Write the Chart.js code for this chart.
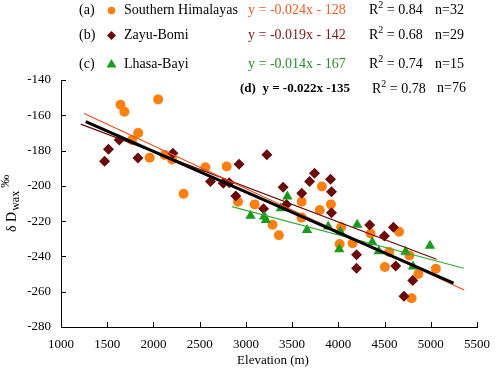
<!DOCTYPE html>
<html>
<head>
<meta charset="utf-8">
<script src="https://cdn.jsdelivr.net/npm/chart.js@4/dist/chart.umd.min.js"></script>
<style>
  html, body { margin: 0; padding: 0; background: #fff; }
  #wrap { width: 500px; height: 369px; }
</style>
</head>
<body>
<div id="wrap"><canvas id="chart"></canvas></div>
<script>
// (a) Southern Himalayas
const himalayaX = [1644, 1686, 2051, 1835, 1768, 1959, 2121, 2202, 2326, 2562, 2792, 2915, 3095, 3288, 3357, 3604,
    3602, 3822, 3799, 3920, 4030, 4014, 4155, 4349, 4551, 4503, 4657, 4769, 4865, 5055, 4792];
const himalayaY = [-154, -158, -151, -170, -174, -184, -182.5, -185, -204.5, -189.5, -189, -209, -210.5, -222, -228, -209,
    -218, -200.4, -213.7, -210.5, -223.5, -233, -232.5, -227, -237.5, -246, -226, -239.5, -250, -247, -263.7];

// (b) Zayu-Bomi
const zayuX = [1471, 1514, 1630, 1832, 2210, 2617, 2755, 2820, 2926, 2891, 3227, 3191, 3403, 3440, 3604, 3689,
    3742, 3915, 3926, 3926, 4339, 4596, 4498, 4197, 4197, 4621, 4805, 4710];
const zayuY = [-186, -179.3, -174, -184.2, -181.5, -197.6, -198.5, -198.2, -187.8, -205.7, -182.3, -213, -200.8, -210.5, -204.2, -197.6,
    -192.9, -196.3, -203.3, -215.2, -222.2, -223.5, -228.4, -239.1, -246.7, -245.4, -253.7, -262.6];

// (c) Lhasa-Bayi
const lhasaX = [3050, 3198, 3216, 3378, 3449, 3661, 3890, 4021, 4010, 4204, 4367, 4437, 4727, 4808, 4991];
const lhasaY = [-217, -217.4, -219.3, -212.7, -206, -225, -223, -226, -236, -222, -232, -237, -237.3, -245.7, -234];

// regression line end points
const trendAX = [1250, 5362], trendAY = [-159, -259];
const trendBX = [1214, 5062], trendBY = [-165, -241.6];
const trendCX = [2849, 5356], trendCY = [-211.8, -246.7];
const trendDX = [1267, 5246], trendDY = [-163.6, -255.2];

const xTicks = [1000, 1500, 2000, 2500, 3000, 3500, 4000, 4500, 5000, 5500];
const yTicks = [-140, -160, -180, -200, -220, -240, -260, -280];

const legendRows = [
    { tag: '(a)', name: 'Southern Himalayas', eq: 'y = -0.024x - 128', r2: '0.84', n: 'n=32', color: '#e8602c', marker: 'circle' },
    { tag: '(b)', name: 'Zayu-Bomi', eq: 'y = -0.019x - 142', r2: '0.68', n: 'n=29', color: '#7a1c1c', marker: 'diamond' },
    { tag: '(c)', name: 'Lhasa-Bayi', eq: 'y = -0.014x - 167', r2: '0.74', n: 'n=15', color: '#2e8b2e', marker: 'triangle' }
];

const ORANGE = '#ff7f10';
const BROWN = '#6b0a0a';
const GREEN = '#1a9a1a';
const SERIF = '"Liberation Serif", "DejaVu Serif", serif';

function pts(xs, ys) {
    return xs.map((x, i) => ({ x: x, y: ys[i] }));
}

function lineSet(xs, ys, color, width) {
    return {
        data: pts(xs, ys), showLine: true, borderColor: color, borderWidth: width,
        pointRadius: 0, fill: false, order: 0
    };
}

// inward tick marks, axis titles and the text legend
const decorations = {
    id: 'decorations',
    afterDraw(chart) {
        const ctx = chart.ctx;
        const xs = chart.scales.x, ys = chart.scales.y;
        const area = chart.chartArea;
        ctx.save();
        ctx.strokeStyle = '#000';
        ctx.lineWidth = 1;
        ctx.beginPath();
        xTicks.forEach(v => {
            const px = Math.round(xs.getPixelForValue(v)) + 0.5;
            ctx.moveTo(px, area.bottom);
            ctx.lineTo(px, area.bottom - 5);
        });
        yTicks.forEach(v => {
            const py = Math.round(ys.getPixelForValue(v)) + 0.5;
            ctx.moveTo(area.left, py);
            ctx.lineTo(area.left + 5, py);
        });
        ctx.stroke();

        // x title
        ctx.fillStyle = '#000';
        ctx.font = '13px ' + SERIF;
        ctx.textAlign = 'center';
        ctx.textBaseline = 'middle';
        ctx.fillText('Elevation (m)', 273, 361);

        // y title: δ D_wax ‰
        ctx.save();
        ctx.translate(16, 232);
        ctx.rotate(-Math.PI / 2);
        ctx.textAlign = 'left';
        ctx.textBaseline = 'alphabetic';
        ctx.font = '14px ' + SERIF;
        ctx.fillText('\u03b4 D', 0, 0);
        let cx = ctx.measureText('\u03b4 D').width + 1;
        ctx.font = '12px ' + SERIF;
        ctx.fillText('wax', cx, 3);
        cx += ctx.measureText('wax').width + 3;
        ctx.font = '13px ' + SERIF;
        ctx.fillText('\u2030', cx, -7);
        ctx.restore();

        // legend rows
        const rowY = [10.5, 35.5, 64];
        legendRows.forEach((r, i) => {
            const y = rowY[i];
            ctx.font = '14px ' + SERIF;
            ctx.textAlign = 'left';
            ctx.textBaseline = 'middle';
            ctx.fillStyle = '#000';
            ctx.fillText(r.tag, 79, y);
            ctx.fillText(r.name, 124, y);
            drawR2(ctx, 369, y, r.r2);
            ctx.fillText(r.n, 435, y);
            ctx.fillStyle = r.color;
            ctx.fillText(r.eq, 248, y);
            drawMarker(ctx, r.marker, 111.5, y);
        });

        // (d) all data
        ctx.fillStyle = '#000';
        ctx.font = 'bold 13px ' + SERIF;
        ctx.textAlign = 'left';
        ctx.textBaseline = 'middle';
        ctx.fillText('(d)  y = -0.022x -135', 240, 89);
        ctx.font = '14px ' + SERIF;
        drawR2(ctx, 372, 89, '0.78');
        ctx.fillText('n=76', 437, 88);
        ctx.restore();
    }
};

function drawR2(ctx, x, y, val) {
    ctx.font = '14px ' + SERIF;
    ctx.fillText('R', x, y);
    let w = ctx.measureText('R').width;
    ctx.font = '10px ' + SERIF;
    ctx.fillText('2', x + w, y - 5);
    w += ctx.measureText('2').width;
    ctx.font = '14px ' + SERIF;
    ctx.fillText(' = ' + val, x + w, y);
}

function drawMarker(ctx, kind, x, y) {
    ctx.beginPath();
    if (kind === 'circle') {
        ctx.fillStyle = ORANGE;
        ctx.arc(x, y, 3.8, 0, Math.PI * 2);
    } else if (kind === 'diamond') {
        ctx.fillStyle = BROWN;
        ctx.moveTo(x - 4.5, y);
        ctx.lineTo(x, y - 4.5);
        ctx.lineTo(x + 4.5, y);
        ctx.lineTo(x, y + 4.5);
    } else {
        ctx.fillStyle = GREEN;
        ctx.moveTo(x, y - 5);
        ctx.lineTo(x + 5, y + 3.5);
        ctx.lineTo(x - 5, y + 3.5);
    }
    ctx.closePath();
    ctx.fill();
}

const ctx = document.getElementById('chart').getContext('2d');
new Chart(ctx, {
    type: 'scatter',
    data: {
        datasets: [
            lineSet(trendDX, trendDY, '#000', 3),
            lineSet(trendAX, trendAY, '#e8501e', 1.2),
            lineSet(trendBX, trendBY, BROWN, 1.2),
            lineSet(trendCX, trendCY, '#3aa63a', 1.2),
            { data: pts(lhasaX, lhasaY), pointStyle: 'triangle', pointRadius: 6, backgroundColor: GREEN, borderWidth: 0, order: 1 },
            { data: pts(zayuX, zayuY), pointStyle: 'rectRot', pointRadius: 5.5, backgroundColor: BROWN, borderWidth: 0, order: 2 },
            { data: pts(himalayaX, himalayaY), pointStyle: 'circle', pointRadius: 5, backgroundColor: ORANGE, borderWidth: 0, order: 3 }
        ]
    },
    options: {
        responsive: true,
        maintainAspectRatio: false,
        animation: false,
        layout: { padding: { top: 80, right: 13, left: 0, bottom: 0 } },
        plugins: {
            legend: { display: false },
            tooltip: { enabled: false }
        },
        scales: {
            x: {
                type: 'linear',
                min: 1000, max: 5500,
                afterFit: s => { s.height = 42; },
                afterBuildTicks: s => { s.ticks = xTicks.map(v => ({ value: v })); },
                grid: { display: false, drawTicks: false },
                border: { display: true, color: '#000', width: 1 },
                ticks: {
                    padding: 10, color: '#000', maxRotation: 0, autoSkip: false,
                    font: { family: SERIF, size: 13 },
                    callback: v => String(v)
                }
            },
            y: {
                type: 'linear',
                min: -280, max: -140,
                afterFit: s => { s.width = 61; },
                afterBuildTicks: s => { s.ticks = yTicks.map(v => ({ value: v })); },
                grid: { display: false, drawTicks: false },
                border: { display: true, color: '#000', width: 1 },
                ticks: {
                    padding: 10, color: '#000', autoSkip: false,
                    font: { family: SERIF, size: 13 },
                    callback: v => String(v)
                }
            }
        }
    },
    plugins: [decorations]
});
</script>
</body>
</html>
